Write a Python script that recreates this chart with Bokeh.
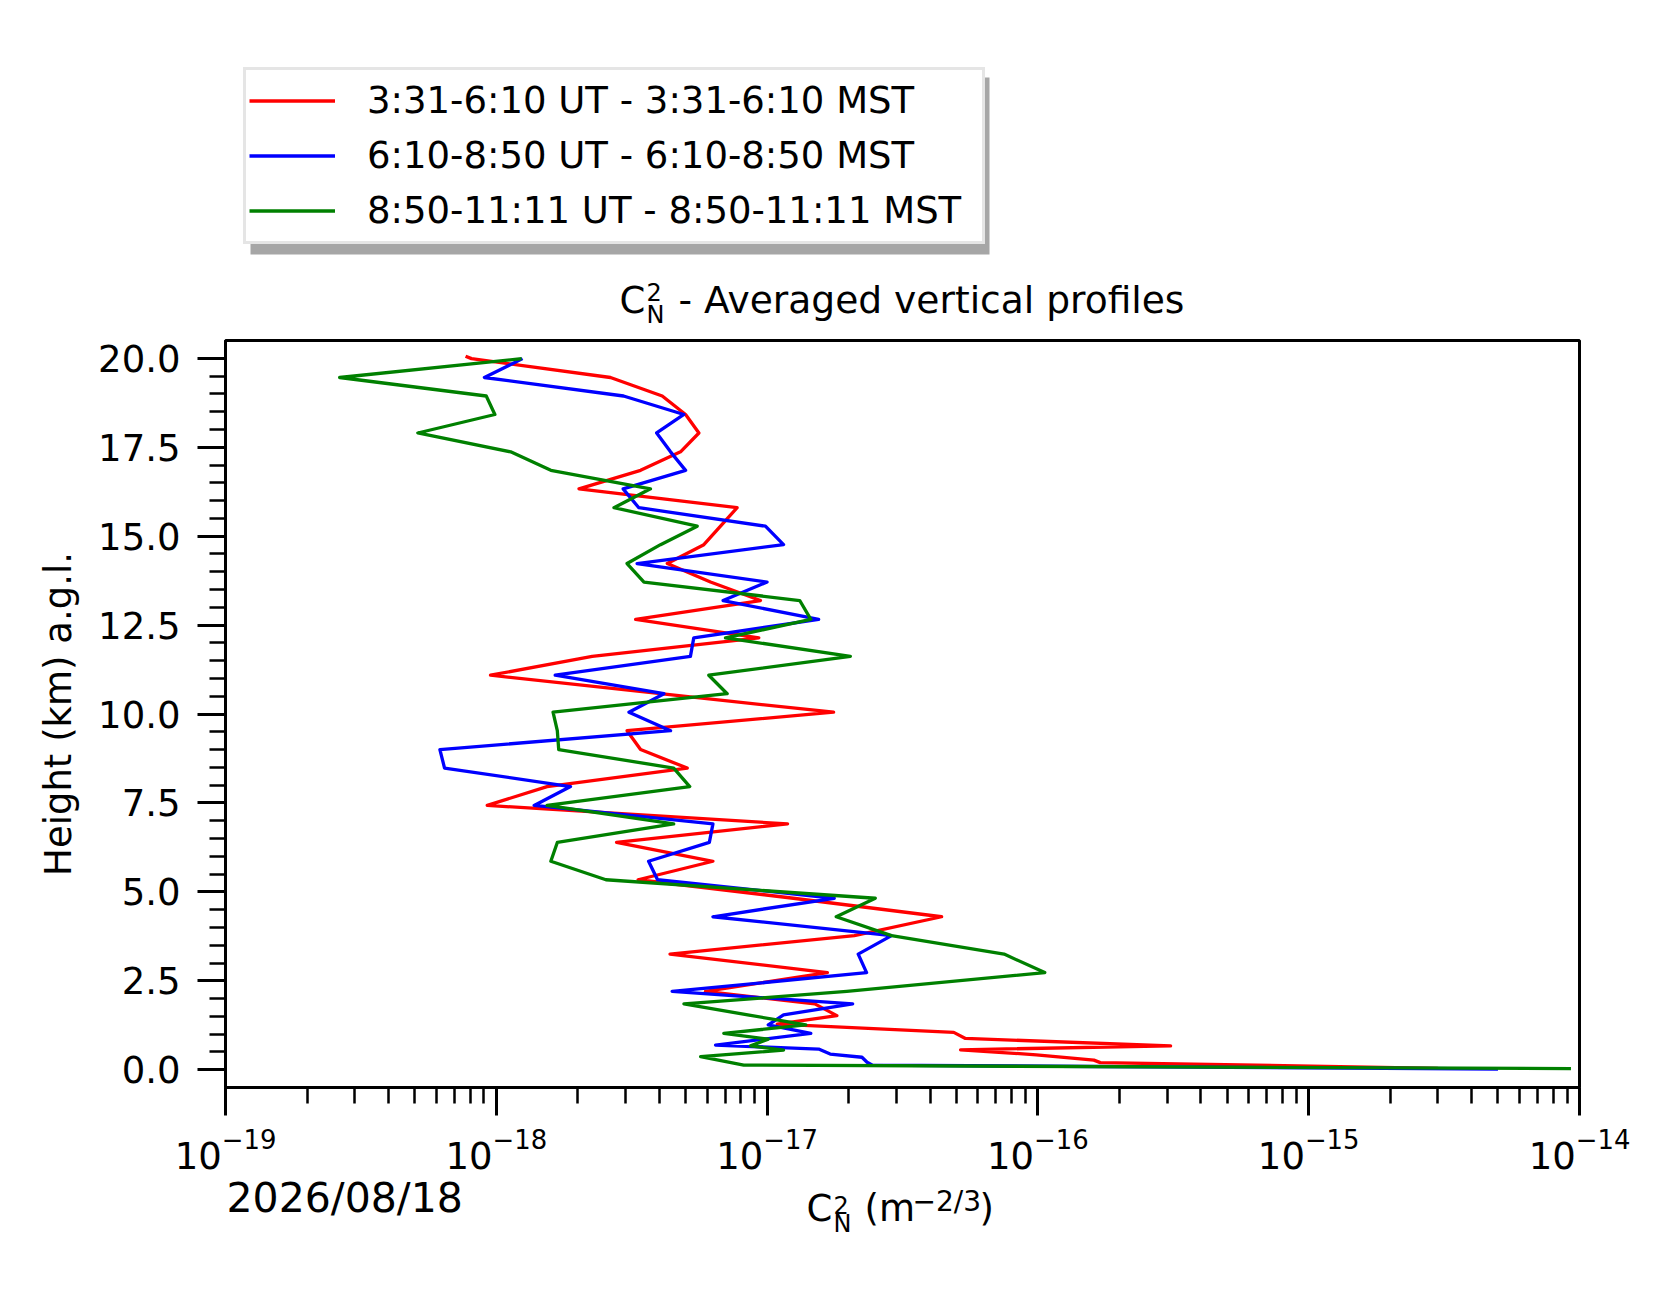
from bokeh.plotting import figure
from bokeh.layouts import column
from bokeh.models import (Range1d, FixedTicker, PrintfTickFormatter, LogTickFormatter,
                          Label, Legend, LegendItem, BoxAnnotation, ColumnDataSource)
from bokeh.embed import file_html
from bokeh.resources import INLINE

# ---------------- data ----------------
HEIGHT_KM = [19.99, 19.46, 18.94, 18.42, 17.90, 17.37, 16.85, 16.33, 15.80, 15.28,
             14.76, 14.23, 13.71, 13.19, 12.66, 12.14, 11.62, 11.09, 10.57, 10.05,
             9.53, 9.00, 8.48, 7.96, 7.43, 6.91, 6.39, 5.86, 5.34, 4.82,
             4.30, 3.77, 3.25, 2.73, 2.20]

RED_TOP_HEIGHT = [20.06]
RED_TOP_CN2 = [7.7e-19]
RED_CN2 = [8.1e-19, 2.64e-18, 4.10e-18, 5.00e-18, 5.60e-18, 4.79e-18, 3.41e-18, 2.02e-18,
           7.75e-18, 6.73e-18, 5.84e-18, 4.28e-18, 6.18e-18, 9.45e-18, 3.27e-18, 9.32e-18,
           2.26e-18, 9.52e-19, 4.04e-18, 1.76e-17, 3.04e-18, 3.41e-18, 5.07e-18, 1.54e-18,
           9.26e-19, 1.19e-17, 2.78e-18, 6.31e-18, 3.34e-18, 1.25e-17, 4.41e-17, 2.10e-17,
           4.38e-18, 1.67e-17, 5.92e-18]
RED_LOW_HEIGHT = [1.85, 1.52, 1.28, 1.05, 0.88, 0.67, 0.56, 0.42, 0.27, 0.20, 0.04]
RED_LOW_CN2 = [1.5e-17, 1.81e-17, 1.09e-17, 4.89e-17, 5.40e-17, 3.09e-16, 5.18e-17,
               9.87e-17, 1.61e-16, 1.70e-16, 3.0e-15]

BLUE_CN2 = [1.25e-18, 9.04e-19, 2.95e-18, 4.93e-18, 3.91e-18, 4.40e-18, 5.00e-18, 2.94e-18,
            3.36e-18, 9.86e-18, 1.15e-17, 3.31e-18, 1.0e-17, 6.88e-18, 1.55e-17, 5.36e-18,
            5.21e-18, 1.65e-18, 4.16e-18, 3.09e-18, 4.40e-18, 6.19e-19, 6.44e-19, 1.88e-18,
            1.38e-18, 6.31e-18, 6.12e-18, 3.65e-18, 3.94e-18, 1.77e-17, 6.31e-18, 2.88e-17,
            2.17e-17, 2.33e-17, 4.46e-18]
BLUE_LOW_HEIGHT = [1.85, 1.54, 1.26, 1.02, 0.69, 0.58, 0.44, 0.35, 0.21, 0.13, 0.02]
BLUE_LOW_CN2 = [2.07e-17, 1.15e-17, 1.01e-17, 1.45e-17, 6.45e-18, 1.55e-17, 1.71e-17,
                2.24e-17, 2.34e-17, 2.45e-17, 5.0e-15]

GREEN_CN2 = [1.24e-18, 2.64e-19, 9.18e-19, 9.88e-19, 5.13e-19, 1.13e-18, 1.59e-18, 3.71e-18,
             2.72e-18, 5.52e-18, 4.04e-18, 3.04e-18, 3.51e-18, 1.32e-17, 1.45e-17, 7.02e-18,
             2.03e-17, 6.09e-18, 7.12e-18, 1.62e-18, 1.68e-18, 1.70e-18, 4.52e-18, 5.18e-18,
             1.54e-18, 4.52e-18, 1.68e-18, 1.59e-18, 2.54e-18, 2.51e-17, 1.80e-17, 2.88e-17,
             7.50e-17, 1.06e-16, 1.97e-17]
GREEN_LOW_HEIGHT = [1.85, 1.26, 1.02, 0.86, 0.67, 0.55, 0.37, 0.13, 0.03]
GREEN_LOW_CN2 = [4.93e-18, 1.39e-17, 6.92e-18, 1.01e-17, 8.69e-18, 1.15e-17, 5.68e-18,
                 8.2e-18, 9.3e-15]

LEGEND_LABELS = ["3:31-6:10 UT - 3:31-6:10 MST",
                 "6:10-8:50 UT - 6:10-8:50 MST",
                 "8:50-11:11 UT - 8:50-11:11 MST"]
Y_TICKS = [0.0, 2.5, 5.0, 7.5, 10.0, 12.5, 15.0, 17.5, 20.0]
X_DECADES = [-19, -18, -17, -16, -15, -14]
DATE_TEXT = "2026/08/18"
TITLE_REST = "- Averaged vertical profiles"
COLORS = ["#ff0000", "#0000ff", "#008000"]

FONT = "DejaVu Sans"
W = 1668
FRAME_L, FRAME_W = 225, 1354
FRAME_TOP, FRAME_H = 340, 747
MAIN_BOTTOM_BORDER = 87
LINE_W = 3.3


def blank_fig(height):
    # strip above / below the plot; its frame is aligned with the main frame,
    # so its x range is expressed in page pixels
    f = figure(width=W, height=height,
               x_range=Range1d(FRAME_L, FRAME_L + FRAME_W), y_range=Range1d(0, height),
               min_border=0, x_axis_location=None, y_axis_location=None,
               toolbar_location=None, output_backend="svg", title=None,
               background_fill_color="white", border_fill_color="white")
    f.outline_line_color = None
    f.grid.visible = False
    return f


def lab(text, x, y, size):
    # y is the wanted baseline; Bokeh draws "alphabetic" text ~0.36 em lower
    return Label(x=x, y=y + 0.36 * size, text=text, text_font=FONT,
                 text_font_size=f"{size}px", text_baseline="alphabetic",
                 text_align="left", text_color="black")


series = [
    (RED_TOP_HEIGHT + HEIGHT_KM + RED_LOW_HEIGHT, RED_TOP_CN2 + RED_CN2 + RED_LOW_CN2),
    (HEIGHT_KM + BLUE_LOW_HEIGHT, BLUE_CN2 + BLUE_LOW_CN2),
    (HEIGHT_KM + GREEN_LOW_HEIGHT, GREEN_CN2 + GREEN_LOW_CN2),
]

# ---------------- main plot ----------------
p = figure(x_axis_type="log", x_range=Range1d(1e-19, 1e-14), y_range=Range1d(-0.5, 20.5),
           frame_width=FRAME_W, frame_height=FRAME_H,
           min_border_left=FRAME_L, min_border_right=W - FRAME_L - FRAME_W,
           min_border_top=5, min_border_bottom=MAIN_BOTTOM_BORDER,
           output_backend="svg", toolbar_location=None, title=None,
           background_fill_color="white", border_fill_color="white")
p.xgrid.visible = False
p.ygrid.visible = False
p.outline_line_color = "black"
p.outline_line_width = 3

for (h, v), c in zip(series, COLORS):
    src = ColumnDataSource(data=dict(x=v, y=h))
    p.line("x", "y", source=src, line_color=c, line_width=LINE_W, line_join="round")

minor_y = [t * 0.5 for t in range(0, 41) if (t * 0.5) not in Y_TICKS]
p.yaxis.ticker = FixedTicker(ticks=Y_TICKS, minor_ticks=minor_y)
p.yaxis.formatter = PrintfTickFormatter(format="%.1f")
major_x = [10.0 ** e for e in X_DECADES]
minor_x = [m * 10.0 ** e for e in X_DECADES[:-1] for m in range(2, 10)]
p.xaxis.ticker = FixedTicker(ticks=major_x, minor_ticks=minor_x)
p.xaxis.formatter = LogTickFormatter()

for ax in (p.xaxis[0], p.yaxis[0]):
    ax.axis_line_width = 3
    ax.axis_line_color = "black"
    ax.major_tick_line_width = 3
    ax.major_tick_out = 28
    ax.major_tick_in = 0
    ax.minor_tick_line_width = 2.5
    ax.minor_tick_out = 16
    ax.minor_tick_in = 0
    ax.major_label_text_font = FONT
    ax.major_label_text_font_size = "37px"
    ax.major_label_text_color = "black"
p.yaxis.major_label_standoff = 17
p.xaxis.major_label_standoff = 12
p.yaxis.axis_label = "Height (km) a.g.l."
p.yaxis.axis_label_text_font = FONT
p.yaxis.axis_label_text_font_size = "37px"
p.yaxis.axis_label_text_font_style = "normal"
p.yaxis.axis_label_text_color = "black"
p.yaxis.axis_label_standoff = 15

# ---------------- top strip: legend + title ----------------
TOP_H = FRAME_TOP - 5
top = blank_fig(TOP_H)
shadow = BoxAnnotation(left=250, right=989, top=TOP_H - 77, bottom=TOP_H - 254,
                       fill_color="#a6a6a6", fill_alpha=1.0, line_color=None)
top.add_layout(shadow)
legend_renderers = []
for (h, v), c in zip(series, COLORS):
    # same series; outside this strip's range, only used for the legend swatches
    legend_renderers.append(top.line(x=v, y=h, line_color=c, line_width=LINE_W))
legend = Legend(items=[LegendItem(label=l, renderers=[r])
                       for l, r in zip(LEGEND_LABELS, legend_renderers)],
                location=(243 - FRAME_L, 91), orientation="vertical",
                label_text_font=FONT, label_text_font_size="37px", label_text_color="black",
                glyph_width=86, glyph_height=55, label_height=55, label_width=612,
                label_standoff=32, padding=3, spacing=0, margin=0,
                border_line_color="#cccccc", border_line_width=3,
                background_fill_color="white", background_fill_alpha=1.0)
top.add_layout(legend)
top.add_layout(lab("C", 619, TOP_H - 313, 37))
top.add_layout(lab("2", 646, TOP_H - 300, 24))
top.add_layout(lab("N", 646, TOP_H - 323, 24))
top.add_layout(lab(TITLE_REST, 678, TOP_H - 313, 37.6))

# ---------------- bottom strip: date + x axis label ----------------
BOT_TOP = FRAME_TOP + FRAME_H + MAIN_BOTTOM_BORDER
BOT_H = 1295 - BOT_TOP
bot = blank_fig(BOT_H)
Y0 = BOT_TOP + BOT_H
bot.add_layout(lab(DATE_TEXT, 226, Y0 - 1212, 41))
bot.add_layout(lab("C", 806, Y0 - 1221, 37))
bot.add_layout(lab("2", 833, Y0 - 1213, 24))
bot.add_layout(lab("N", 833, Y0 - 1232, 24))
bot.add_layout(lab("(m", 864, Y0 - 1221, 37))
bot.add_layout(lab("\u22122/3", 912, Y0 - 1211, 28))
bot.add_layout(lab(")", 979, Y0 - 1221, 37))

layout = column(top, p, bot, spacing=0)
open("out.html", "w").write(file_html(layout, INLINE))
